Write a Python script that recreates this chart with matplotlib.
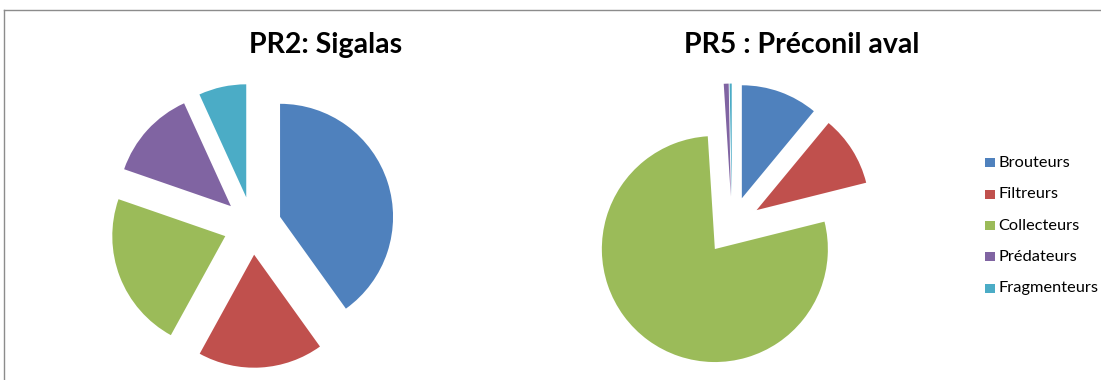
import matplotlib.pyplot as plt
from matplotlib.lines import Line2D
from matplotlib.patches import Rectangle

plt.rcParams['font.family'] = 'Lato'

# Functional feeding groups
categories = ['Brouteurs', 'Filtreurs', 'Collecteurs', 'Prédateurs', 'Fragmenteurs']
colors = ['#4F81BD', '#C0504D', '#9BBB59', '#8064A2', '#4BACC6']

# Percent of individuals per group at each station
pr2_values = [40.1, 17.9, 22.3, 12.9, 6.8]
pr5_values = [11.0, 10.1, 77.9, 0.7, 0.3]

W, H = 1101, 380
fig = plt.figure(figsize=(W / 100, H / 100), dpi=100, facecolor='white')

# chart area border (left and top edges visible)
fig.add_artist(Line2D([4 / W, 4 / W], [0, 1 - 10 / H], transform=fig.transFigure,
                      color='#8C8C8C', lw=1))
fig.add_artist(Line2D([4 / W, 1], [1 - 10 / H, 1 - 10 / H], transform=fig.transFigure,
                      color='#8C8C8C', lw=1))

radius_px = 113
box = 300
lim = box / 2 / radius_px


def draw_pie(cx, cy, values, title, tx):
    ax = fig.add_axes([(cx - box / 2) / W, (H - cy - box / 2) / H, box / W, box / H])
    ax.pie(values, colors=colors, startangle=90, counterclock=False,
           explode=[0.257] * len(values), wedgeprops=dict(linewidth=0))
    ax.set_xlim(-lim, lim)
    ax.set_ylim(-lim, lim)
    ax.set_aspect('equal')
    ax.axis('off')
    fig.text(tx / W, 1 - 45 / H, title, ha='center', va='center',
             fontsize=20.5, fontweight='bold', color='black')


draw_pie(252.4, 225.7, pr2_values, 'PR2: Sigalas', 326)
draw_pie(732, 225.6, pr5_values, 'PR5 : Préconil aval', 802)

# legend
for i, (cat, col) in enumerate(zip(categories, colors)):
    yc = 162.7 + i * 31.4
    fig.add_artist(Rectangle((985 / W, 1 - (yc + 4.5) / H), 9.5 / W, 9 / H,
                             transform=fig.transFigure, facecolor=col, edgecolor='none'))
    fig.text(998 / W, 1 - yc / H, cat, ha='left', va='center', fontsize=11.8, color='black')

fig.savefig('out.png', dpi=100, facecolor='white')
